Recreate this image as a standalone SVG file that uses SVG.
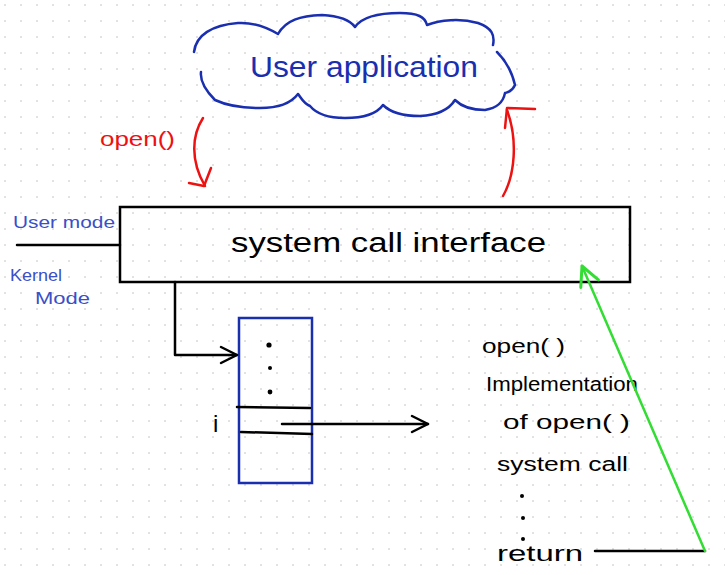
<svg xmlns="http://www.w3.org/2000/svg" width="725" height="575" viewBox="0 0 725 575">
<defs>
<pattern id="grid" width="16" height="16" patternUnits="userSpaceOnUse" x="3" y="3">
<circle cx="2" cy="2" r="1" fill="#d9d9d9"/>
</pattern>
<marker id="openArrow" viewBox="0 0 20 20" refX="18" refY="10" markerWidth="20" markerHeight="20" markerUnits="userSpaceOnUse" orient="auto">
<path d="M2,2 L18,10 L2,18" fill="none" stroke="#000" stroke-width="2.5" stroke-linecap="round" stroke-linejoin="round"/>
</marker>
<marker id="greenArrow" viewBox="0 0 20 20" refX="18" refY="10" markerWidth="24" markerHeight="24" markerUnits="userSpaceOnUse" orient="auto">
<path d="M2,2 L18,10 L2,18" fill="none" stroke="#33dd33" stroke-width="2.5" stroke-linecap="round" stroke-linejoin="round"/>
</marker>
</defs>
<style>
.hand{font-family:"Liberation Sans","DejaVu Sans",sans-serif;}
.blk{fill:#000;}
.blue{fill:#1a2fb0;}
.lblue{fill:#3a4fc8;}
.red{fill:#ee1111;}
.ln{fill:none;stroke:#000;stroke-width:2.5;stroke-linecap:round;stroke-linejoin:round;}
.rd{fill:none;stroke:#ee1111;stroke-width:2.5;stroke-linecap:round;stroke-linejoin:round;}
</style>
<rect width="725" height="575" fill="#fff"/>
<rect width="725" height="575" fill="url(#grid)"/>

<g id="user-application">
<path d="M194,52 C196,35 212,25 238,23 C255,22 268,28 278,34 C286,20 300,16 322,15 C340,16 350,20 355,27 C362,17 380,13 400,13 C418,13 425,17 427,25 C440,20 460,18 478,23 C492,28 495,35 493,45 M497,52 C505,60 512,72 515,85 C512,92 508,92 505,93 C503,103 497,108 485,110 C470,110 460,105 455,100 C450,108 440,115 420,116 C400,116 390,112 383,105 C378,112 368,118 345,118 C325,118 315,112 310,106 C303,103 300,96 298,94 C292,102 280,108 260,108 C245,108 230,107 215,100 C205,90 200,80 201,72" fill="none" stroke="#1a2fb0" stroke-width="2.5" stroke-linecap="round" stroke-linejoin="round"/>
<text x="250" y="77" class="hand blue" font-size="29" textLength="228" lengthAdjust="spacingAndGlyphs">User application</text>
</g>

<g id="open-label">
<text x="100" y="146" class="hand red" font-size="20" textLength="75" lengthAdjust="spacingAndGlyphs">open()</text>
</g>

<g id="system-call-interface">
<rect x="120" y="207" width="510" height="75" fill="none" stroke="#000" stroke-width="2.5"/>
<text x="231" y="252" class="hand blk" font-size="27" textLength="315" lengthAdjust="spacingAndGlyphs">system call interface</text>
</g>

<g id="mode-labels">
<text x="13" y="228" class="hand lblue" font-size="17" textLength="102" lengthAdjust="spacingAndGlyphs">User mode</text>
<text x="10" y="281" class="hand lblue" font-size="17" textLength="52" lengthAdjust="spacingAndGlyphs">Kernel</text>
<text x="35" y="304" class="hand lblue" font-size="17" textLength="55" lengthAdjust="spacingAndGlyphs">Mode</text>
</g>

<g id="table">
<rect x="239" y="318" width="73" height="165" fill="none" stroke="#1a2fb0" stroke-width="2.5"/>
<circle cx="269" cy="345" r="2.6" class="blk"/>
<circle cx="270" cy="368" r="2" class="blk"/>
<circle cx="270" cy="392" r="2.4" class="blk"/>
<line x1="237" y1="407" x2="310" y2="408" class="ln"/>
<line x1="241" y1="432" x2="312" y2="434" class="ln"/>
<text x="213" y="432" class="hand blk" font-size="24">i</text>
</g>

<g id="implementation">
<text x="482" y="353" class="hand blk" font-size="21" textLength="83" lengthAdjust="spacingAndGlyphs">open( )</text>
<text x="486" y="391" class="hand blk" font-size="20" textLength="152" lengthAdjust="spacingAndGlyphs">Implementation</text>
<text x="503" y="429" class="hand blk" font-size="21" textLength="127" lengthAdjust="spacingAndGlyphs">of open( )</text>
<text x="497" y="471" class="hand blk" font-size="20" textLength="131" lengthAdjust="spacingAndGlyphs">system call</text>
<circle cx="522" cy="496" r="2" class="blk"/>
<circle cx="523" cy="518" r="2" class="blk"/>
<circle cx="523" cy="539" r="2" class="blk"/>
<text x="497" y="561" class="hand blk" font-size="22" textLength="86" lengthAdjust="spacingAndGlyphs">return</text>
</g>

<g id="connectors">
<path d="M203,118 C192,135 190,160 205,186" class="rd"/>
<path d="M189,183 L204,186 L211,168" class="rd"/>
<path d="M503,196 C515,175 518,140 507,110" class="rd"/>
<path d="M505,128 L507,108 L535,109" class="rd"/>
<line x1="17" y1="245" x2="120" y2="245" class="ln"/>
<path d="M175,282 L175,355 L237,355" class="ln" marker-end="url(#openArrow)"/>
<line x1="282" y1="424" x2="428" y2="424" class="ln" marker-end="url(#openArrow)"/>
<line x1="595" y1="551" x2="705" y2="551" class="ln"/>
<line x1="705" y1="551" x2="582" y2="266" fill="none" stroke="#33dd33" stroke-width="2.5" stroke-linecap="round" marker-end="url(#greenArrow)"/>
</g>
</svg>
